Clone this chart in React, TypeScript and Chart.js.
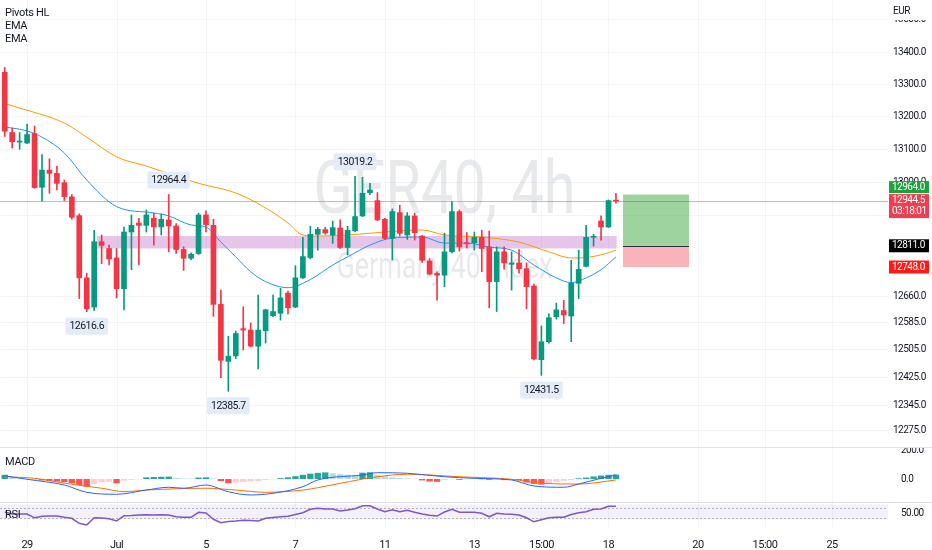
import { useEffect, useRef } from 'react';
import { Chart, registerables } from 'chart.js';

Chart.register(...registerables);

const FONT = "Roboto, 'Noto Sans', sans-serif";
const TEXT = '#131722';
const UP = '#089981';
const DOWN = '#f23645';
const GRID = '#f3f4f7';
const AXIS_W = 44;
const SLOTS = 119;
const SPACING = '-0.5px';

// GER40 4h candles
const opens = [13337, 13152, 13123, 13120, 13149, 12986, 13038, 13028, 13000, 12957, 12901, 12716, 12630, 12823, 12803, 12775, 12684, 12852, 12879, 12872, 12893, 12867, 12888, 12870, 12800, 12774, 12788, 12903, 12872, 12638, 12472, 12488, 12567, 12563, 12516, 12561, 12605, 12612, 12671, 12630, 12716, 12776, 12845, 12859, 12843, 12864, 12806, 12856, 12900, 12970, 12946, 12890, 12833, 12910, 12843, 12900, 12840, 12766, 12729, 12724, 12793, 12913, 12820, 12820, 12836, 12808, 12705, 12793, 12756, 12760, 12743, 12692, 12477, 12529, 12602, 12620, 12604, 12700, 12750, 12836, 12885, 12867, 12946];
const highs = [13352, 13166, 13152, 13178, 13172, 13085, 13072, 13050, 13008, 12964, 12906, 12730, 12857, 12843, 12813, 12803, 12867, 12903, 12893, 12918, 12908, 12906, 12964.4, 12877, 12808, 12790, 12908, 12915, 12890, 12680, 12545, 12560, 12631, 12584, 12665, 12624, 12665, 12685, 12677, 12752, 12836, 12869, 12866, 12866, 12885, 12888, 12869, 13019.2, 13016, 12998, 12970, 12893, 12921, 12932, 12910, 12908, 12842, 12773, 12734, 12848, 12943, 12918, 12850, 12852, 12857, 12855, 12808, 12808, 12793, 12800, 12760, 12698, 12575, 12610, 12642, 12650, 12768, 12798, 12872, 12845, 12900, 12948, 12968];
const lows = [13140, 13105, 13101, 13118, 12983, 12944, 12968, 12978, 12946, 12890, 12655, 12616.6, 12620, 12758, 12754, 12657, 12622, 12740, 12754, 12852, 12813, 12843, 12793, 12788, 12738, 12770, 12785, 12852, 12603, 12425, 12385.7, 12480, 12505, 12514, 12450, 12525, 12602, 12592, 12610, 12628, 12714, 12772, 12798, 12845, 12818, 12803, 12784, 12852, 12898, 12964, 12886, 12830, 12769, 12840, 12830, 12828, 12762, 12725, 12650, 12690, 12790, 12795, 12805, 12798, 12734, 12628, 12617, 12742, 12680, 12730, 12625, 12476, 12431.5, 12525, 12595, 12582, 12529, 12655, 12748, 12810, 12828, 12865, 12938];
const closes = [13156, 13124, 13125, 13146, 12985, 13038, 13028, 12998, 12958, 12896, 12716, 12625, 12823, 12812, 12772, 12684, 12852, 12872, 12872, 12903, 12867, 12890, 12870, 12800, 12774, 12786, 12903, 12874, 12638, 12475, 12487, 12553, 12563, 12516, 12563, 12622, 12617, 12657, 12628, 12716, 12779, 12845, 12860, 12849, 12865, 12806, 12857, 12898, 12968, 12978, 12888, 12833, 12913, 12848, 12900, 12850, 12768, 12727, 12724, 12793, 12913, 12808, 12817, 12836, 12803, 12705, 12793, 12760, 12760, 12743, 12690, 12479, 12529, 12599, 12622, 12607, 12700, 12741, 12836, 12838, 12867, 12946, 12944.5];

// [bar index, value]
const emaFast: [number, number][] = [[0, 13169], [3, 13157], [5, 13138], [8, 13090], [11, 13008], [15, 12928], [20, 12909], [22, 12900], [25, 12873], [27, 12867], [29, 12822], [31, 12778], [33, 12734], [35, 12705], [38, 12687], [41, 12711], [44, 12754], [46, 12778], [49, 12813], [52, 12834], [56, 12837], [59, 12819], [62, 12819], [65, 12807], [68, 12798], [71, 12754], [74, 12716], [76, 12702], [78, 12716], [80, 12740], [82, 12778]];
const emaSlow: [number, number][] = [[0, 13241], [2, 13227], [8, 13181], [11, 13138], [15, 13078], [19, 13050], [21, 13035], [26, 12998], [31, 12969], [35, 12924], [38, 12879], [40, 12843], [42, 12840], [46, 12843], [51, 12852], [56, 12858], [59, 12843], [64, 12837], [69, 12822], [73, 12793], [76, 12775], [77, 12775], [80, 12784], [82, 12798]];

const macdLine: [number, number][] = [[0, 23], [3, -2], [8, -43], [11, -95], [15, -109], [19, -79], [22, -59], [24, -66], [27, -43], [30, -91], [33, -114], [36, -102], [40, -55], [42, -7], [48, 29], [50, 45], [54, 41], [59, 16], [63, 5], [68, -7], [71, -50], [75, -59], [77, -36], [80, 5], [82, 29]];
const signalLine: [number, number][] = [[0, 16], [4, 5], [8, -30], [13, -66], [16, -90], [19, -79], [27, -66], [31, -79], [35, -95], [40, -79], [42, -62], [45, -31], [50, 16], [54, 34], [61, 16], [68, -2], [72, -31], [77, -36], [82, -7]];
const macdHist = [30, 10, 5, 0, -2, -10, -14, -18, -22, -30, -43, -55, -35, -25, -20, -31, -12, -6, -3, 12, 14, 16, 17, 8, 4, 3, 10, 12, 4, -15, -30, -25, -22, -18, -14, -8, -3, 6, 12, 20, 30, 38, 44, 47, 40, 35, 30, 25, 45, 48, 30, 20, 12, 8, 5, 2, -10, -18, -20, -8, -3, -6, -2, 2, -2, -6, -3, -8, -5, -8, -25, -35, -40, -30, -22, -15, -8, 5, 10, 18, 25, 30, 32];

const rsi = [55, 47, 47, 47, 32, 38, 39, 39, 34, 30, 10, 3, 32, 31, 28, 19, 40, 41, 43, 44, 43, 44, 43, 36, 34, 34, 54, 51, 26, 12, 17, 19, 22, 21, 19, 30, 33, 36, 38, 45, 52, 66, 70, 67, 67, 59, 63, 68, 80, 80, 67, 56, 64, 56, 62, 54, 47, 42, 39, 55, 66, 54, 54, 54, 50, 36, 50, 47, 46, 43, 32, 16, 24, 32, 34, 34, 45, 52, 56, 66, 67, 78, 78];

const priceTicks = [13500, 13400, 13300, 13200, 13100, 13000, 12900, 12660, 12585, 12505, 12425, 12345, 12275];
const timeTicks: [number, string][] = [[3, '29'], [15, 'Jul'], [27, '5'], [39, '7'], [51, '11'], [63, '13'], [72, '15:00'], [81, '18'], [93, '20'], [102, '15:00'], [111, '25']];

const pivotHighs = [22, 47];
const pivotLows = [11, 30, 72];

const zone = { from: 12.35, to: 82.1, top: 12840, bottom: 12803 };
const position = { from: 82.95, to: 91.8, target: 12964, entry: 12811, stop: 12748 };
const countdown = '03:18:01';

const slotLabels = Array.from({ length: SLOTS }, (_, i) => String(i));
const tickMap = new Map(timeTicks);

const sparse = (pts: [number, number][]) => {
  const a: (number | null)[] = Array(SLOTS).fill(null);
  pts.forEach(([i, v]) => (a[i] = v));
  return a;
};

const xAt = (chart: any, i: number) => {
  const s = chart.scales.x;
  const a = s.getPixelForValue(0);
  const b = s.getPixelForValue(1);
  return a + (b - a) * i;
};

const fixAxis = (s: any) => {
  s.width = AXIS_W;
  s.paddingTop = 0;
  s.paddingBottom = 0;
};

const axisTicks = (size: number) => ({ font: { family: FONT, size }, color: TEXT, padding: 5, autoSkip: false });

// narrower text like the reference
const tighten = {
  id: 'tighten',
  beforeUpdate(chart: any) { chart.ctx.letterSpacing = SPACING; },
  beforeDraw(chart: any) { chart.ctx.letterSpacing = SPACING; },
};

const drawTimeGrid = (chart: any) => {
  const { ctx, chartArea: a } = chart;
  ctx.save();
  ctx.strokeStyle = GRID;
  ctx.lineWidth = 1;
  timeTicks.forEach(([i]) => {
    const x = Math.round(xAt(chart, i)) + 0.5;
    ctx.beginPath();
    ctx.moveTo(x, a.top);
    ctx.lineTo(x, a.bottom);
    ctx.stroke();
  });
  ctx.restore();
};

function fitText(ctx: CanvasRenderingContext2D, text: string, cx: number, base: number, size: number, width: number) {
  ctx.font = `${size}px ${FONT}`;
  const w = ctx.measureText(text).width;
  ctx.save();
  ctx.translate(cx, base);
  ctx.scale(width / w, 1);
  ctx.fillText(text, 0, 0);
  ctx.restore();
}

function pivotTag(ctx: CanvasRenderingContext2D, cx: number, edge: number, text: string, above: boolean) {
  ctx.font = `10.5px ${FONT}`;
  const w = ctx.measureText(text).width + 8;
  const h = 17;
  const top = above ? edge - 6 - h : edge + 6;
  ctx.fillStyle = '#e3ecf8';
  ctx.beginPath();
  ctx.roundRect(cx - w / 2, top, w, h, 2);
  ctx.fill();
  ctx.fillStyle = TEXT;
  ctx.textAlign = 'center';
  ctx.textBaseline = 'middle';
  ctx.fillText(text, cx, top + h / 2 + 0.5);
}

const mainDecor = {
  id: 'mainDecor',
  beforeDatasetsDraw(chart: any) {
    const { ctx, chartArea: a, scales } = chart;
    const y = scales.y;
    drawTimeGrid(chart);
    ctx.save();
    ctx.letterSpacing = '0px';
    ctx.fillStyle = 'rgba(120,123,134,0.17)';
    ctx.textAlign = 'center';
    ctx.textBaseline = 'alphabetic';
    const cx = (a.left + a.right) / 2;
    fitText(ctx, 'GER40, 4h', cx, 213, 74, 262);
    fitText(ctx, 'Germany 40 Index', cx, 278, 36, 216);
    const zx0 = xAt(chart, zone.from);
    const zx1 = xAt(chart, zone.to);
    const zy0 = y.getPixelForValue(zone.top);
    const zy1 = y.getPixelForValue(zone.bottom);
    ctx.fillStyle = 'rgba(186,104,200,0.38)';
    ctx.fillRect(zx0, zy0, zx1 - zx0, zy1 - zy0);
    ctx.restore();
  },
  afterDatasetsDraw(chart: any) {
    const { ctx, chartArea: a, scales } = chart;
    const y = scales.y;
    ctx.save();
    const px0 = xAt(chart, position.from);
    const px1 = xAt(chart, position.to);
    const yt = y.getPixelForValue(position.target);
    const ye = y.getPixelForValue(position.entry);
    const ys = y.getPixelForValue(position.stop);
    ctx.fillStyle = 'rgba(76,175,80,0.55)';
    ctx.fillRect(px0, yt, px1 - px0, ye - yt);
    ctx.fillStyle = 'rgba(242,54,69,0.38)';
    ctx.fillRect(px0, ye, px1 - px0, ys - ye);
    ctx.strokeStyle = '#2a2e39';
    ctx.lineWidth = 1;
    ctx.beginPath();
    ctx.moveTo(px0, Math.round(ye) + 0.5);
    ctx.lineTo(px1, Math.round(ye) + 0.5);
    ctx.stroke();

    const yl = Math.round(y.getPixelForValue(closes[closes.length - 1])) + 0.5;
    ctx.strokeStyle = 'rgba(242,54,69,0.45)';
    ctx.beginPath();
    ctx.moveTo(0, yl);
    ctx.lineTo(a.right, yl);
    ctx.stroke();

    pivotHighs.forEach((i) => pivotTag(ctx, xAt(chart, i), y.getPixelForValue(highs[i]), highs[i].toFixed(1), true));
    pivotLows.forEach((i) => pivotTag(ctx, xAt(chart, i), y.getPixelForValue(lows[i]), lows[i].toFixed(1), false));
    ctx.restore();
  },
  afterDraw(chart: any) {
    const { ctx, scales } = chart;
    const y = scales.y;
    const left = y.left + 1;
    ctx.save();
    ctx.textAlign = 'left';
    ctx.textBaseline = 'middle';
    ctx.fillStyle = '#ffffff';
    ctx.fillRect(y.left, 0, AXIS_W, 20);
    ctx.fillStyle = TEXT;
    ctx.font = `10px ${FONT}`;
    ctx.fillText('EUR', left + 4, 11);

    const tag = (top: number, h: number, bg: string, lines: string[]) => {
      ctx.fillStyle = bg;
      ctx.fillRect(left, top, 40, h);
      ctx.fillStyle = '#ffffff';
      ctx.font = `10px ${FONT}`;
      lines.forEach((t, k) => ctx.fillText(t, left + 3, top + 6.5 + k * 11));
    };
    const last = closes[closes.length - 1];
    const redTop = y.getPixelForValue(last) - 7;
    tag(redTop, 24, '#ef3e4f', [last.toFixed(1), countdown]);
    const gTop = Math.min(y.getPixelForValue(position.target) - 6, redTop - 13);
    tag(gTop, 12, '#1fa23c', [position.target.toFixed(1)]);
    tag(y.getPixelForValue(position.entry) - 6.5, 13, '#000000', [position.entry.toFixed(1)]);
    tag(y.getPixelForValue(position.stop) - 6.5, 13, '#ff1a1a', [position.stop.toFixed(1)]);
    ctx.restore();
  },
};

const rsiBand = {
  id: 'rsiBand',
  beforeDatasetsDraw(chart: any) {
    const { ctx, chartArea: a, scales } = chart;
    const y = scales.y;
    drawTimeGrid(chart);
    const y70 = Math.round(y.getPixelForValue(70)) + 0.5;
    const y30 = Math.round(y.getPixelForValue(30)) + 0.5;
    ctx.save();
    ctx.fillStyle = 'rgba(126,87,194,0.09)';
    ctx.fillRect(a.left - 1, y70 - 4, a.right - a.left + 1, y30 - y70 + 5);
    ctx.strokeStyle = '#b2b5be';
    ctx.setLineDash([2, 2]);
    ctx.lineWidth = 1;
    [y70, y30].forEach((v) => {
      ctx.beginPath();
      ctx.moveTo(a.left - 1, v);
      ctx.lineTo(a.right, v);
      ctx.stroke();
    });
    ctx.restore();
  },
};

const base = {
  animation: false as const,
  responsive: false,
  events: [] as any[],
  layout: { padding: { left: 1, right: 0, top: 0, bottom: 0 } },
  plugins: { legend: { display: false }, tooltip: { enabled: false } },
};

function useChart(ref: React.RefObject<HTMLCanvasElement | null>, make: () => any) {
  useEffect(() => {
    if (!ref.current) return;
    const chart = new Chart(ref.current, make());
    return () => chart.destroy();
  }, []);
}

function mainConfig() {
  const idx = opens.map((_, i) => i);
  const colors = idx.map((i) => (closes[i] >= opens[i] ? UP : DOWN));
  return {
    type: 'bar',
    data: {
      labels: slotLabels,
      datasets: [
        { type: 'line', data: sparse(emaSlow), borderColor: '#ff9800', borderWidth: 1, pointRadius: 0, spanGaps: true, cubicInterpolationMode: 'monotone', order: 2 },
        { type: 'line', data: sparse(emaFast), borderColor: '#2196f3', borderWidth: 1, pointRadius: 0, spanGaps: true, cubicInterpolationMode: 'monotone', order: 2 },
        { type: 'bar', data: idx.map((i) => [lows[i], highs[i]]), backgroundColor: colors, barThickness: 1, grouped: false, order: 1 },
        { type: 'bar', data: idx.map((i) => [opens[i], closes[i]]), backgroundColor: colors, barThickness: 5, minBarLength: 1, grouped: false, order: 0 },
      ],
    },
    options: {
      ...base,
      scales: {
        x: { type: 'category', offset: true, display: false },
        y: {
          type: 'logarithmic',
          position: 'right',
          min: 12226.7,
          max: 13562.7,
          afterBuildTicks: (s: any) => { s.ticks = priceTicks.map((v) => ({ value: v })); },
          afterFit: fixAxis,
          ticks: { ...axisTicks(10), callback: (v: any) => Number(v).toFixed(1) },
          grid: { color: GRID, drawTicks: false },
          border: { display: false },
        },
      },
    },
    plugins: [tighten, mainDecor],
  };
}

function macdConfig() {
  const histColors = macdHist.map((v, i) => {
    const p = i > 0 ? macdHist[i - 1] : 0;
    return v >= 0 ? (v > p ? '#26a69a' : '#b2dfdb') : v < p ? '#ff5252' : '#ffcdd2';
  });
  return {
    type: 'bar',
    data: {
      labels: slotLabels,
      datasets: [
        { type: 'line', data: sparse(macdLine), borderColor: '#2962ff', borderWidth: 1, pointRadius: 0, spanGaps: true, cubicInterpolationMode: 'monotone', order: 0 },
        { type: 'line', data: sparse(signalLine), borderColor: '#ff6d00', borderWidth: 1, pointRadius: 0, spanGaps: true, cubicInterpolationMode: 'monotone', order: 0 },
        { type: 'bar', data: macdHist, backgroundColor: histColors, categoryPercentage: 1, barPercentage: 0.85, order: 1 },
      ],
    },
    options: {
      ...base,
      scales: {
        x: { type: 'category', offset: true, display: false },
        y: {
          position: 'right',
          min: -171.4,
          max: 221.4,
          afterBuildTicks: (s: any) => { s.ticks = [{ value: 0 }, { value: 200 }]; },
          afterFit: fixAxis,
          ticks: { ...axisTicks(10), callback: (v: any) => Number(v).toFixed(1) },
          grid: { display: false },
          border: { display: false },
        },
      },
    },
    plugins: [tighten, { id: 'macdGrid', beforeDatasetsDraw: drawTimeGrid }],
  };
}

function rsiConfig() {
  return {
    type: 'line',
    data: {
      labels: slotLabels,
      datasets: [{ data: rsi, borderColor: '#7e57c2', borderWidth: 1.5, pointRadius: 0, tension: 0 }],
    },
    options: {
      ...base,
      scales: {
        x: {
          type: 'category',
          offset: true,
          grid: { display: false },
          border: { display: false },
          ticks: {
            autoSkip: false,
            maxRotation: 0,
            padding: 3.5,
            font: { family: FONT, size: 11 },
            color: TEXT,
            callback: (_v: any, i: number) => tickMap.get(i) ?? '',
          },
          afterFit: (s: any) => { s.height = 23; s.paddingLeft = 0; s.paddingRight = 0; },
        },
        y: {
          position: 'right',
          min: -4.8,
          max: 91.2,
          afterBuildTicks: (s: any) => { s.ticks = [{ value: 50 }]; },
          afterFit: fixAxis,
          ticks: { ...axisTicks(10), callback: (v: any) => Number(v).toFixed(2) },
          grid: { display: false },
          border: { display: false },
        },
      },
    },
    plugins: [tighten, rsiBand],
  };
}

const label = (top: number, text: string) => (
  <div style={{ position: 'absolute', left: 5, top, font: `11px ${FONT}`, letterSpacing: '-0.3px', color: TEXT, lineHeight: '12px' }}>{text}</div>
);

export default function App() {
  const mainRef = useRef<HTMLCanvasElement>(null);
  const macdRef = useRef<HTMLCanvasElement>(null);
  const rsiRef = useRef<HTMLCanvasElement>(null);
  useChart(mainRef, mainConfig);
  useChart(macdRef, macdConfig);
  useChart(rsiRef, rsiConfig);

  return (
    <div style={{ position: 'fixed', left: 0, top: 0, width: 932, height: 550, background: '#ffffff', overflow: 'hidden' }}>
      <canvas ref={mainRef} width={932} height={447} style={{ position: 'absolute', left: 0, top: 0 }} />
      <canvas ref={macdRef} width={932} height={55} style={{ position: 'absolute', left: 0, top: 448 }} />
      <canvas ref={rsiRef} width={932} height={47} style={{ position: 'absolute', left: 0, top: 503 }} />
      <div style={{ position: 'absolute', left: 0, top: 447, width: 932, height: 1, background: '#e0e3eb' }} />
      <div style={{ position: 'absolute', left: 0, top: 502, width: 932, height: 1, background: '#e0e3eb' }} />
      {label(7, 'Pivots HL')}
      {label(20, 'EMA')}
      {label(33, 'EMA')}
      {label(456, 'MACD')}
      {label(509, 'RSI')}
    </div>
  );
}
